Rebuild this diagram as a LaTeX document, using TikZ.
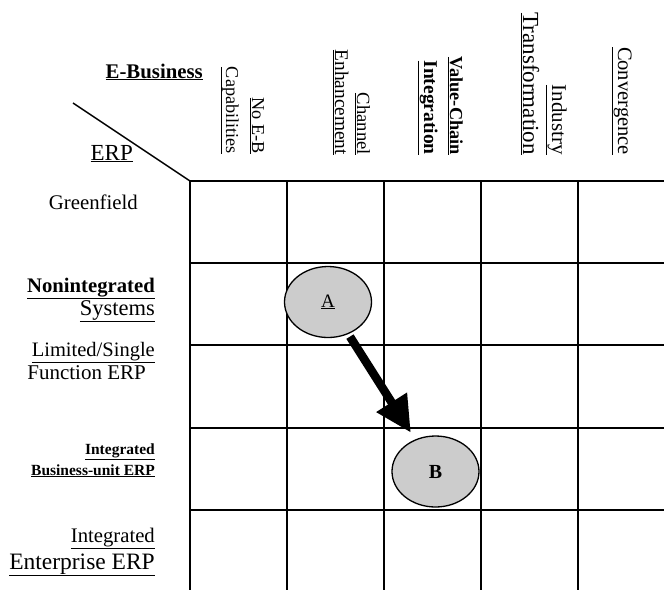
\documentclass[tikz,border=0pt]{standalone}
\usepackage{fontspec}
\setmainfont{Liberation Serif}
\usetikzlibrary{shapes.geometric,arrows.meta}
\newcommand\myfs[1]{\fontsize{#1}{#1}\selectfont}
\begin{document}
\begin{tikzpicture}[x=1pt,y=-1pt,
  lbl/.style={inner sep=0pt, anchor=base east},
  hdr/.style={inner sep=0pt, anchor=base east, rotate=-90},
  gridline/.style={line width=1.5pt},
  blob/.style={ellipse, draw, line width=1.3pt, fill=black!20, minimum width=87pt, minimum height=71pt, inner sep=0pt},
  bigarrow/.style={line width=8.5pt, -{Triangle[length=36pt,width=34pt]}, shorten <=3pt, shorten >=8pt}]
\useasboundingbox (0,0) rectangle (664,590);
% grid
\draw[line width=2pt] (190,181) -- (664,181);
\foreach \yy in {263,345,428,510} {\draw[gridline] (190,\yy) -- (664,\yy);}
\foreach \xx in {190,287,384,481,578} {\draw[gridline] (\xx,181) -- (\xx,590);}
\draw[gridline] (73,103) -- (190,181);
% corner labels
\node[lbl, font=\myfs{20.8}\bfseries] (eb) at (203,78) {\underline{E-Business}};
\node[lbl, font=\myfs{23}] (erp) at (133,160) {\underline{ERP}};
% column headers
\node[hdr, font=\myfs{18.2}] (c1a) at (252,154) {\underline{No E-B}};
\node[hdr, font=\myfs{18.2}] (c1b) at (226,154) {\underline{Capabilities}};
\node[hdr, font=\myfs{18.6}] (c2a) at (357,155) {\underline{Channel}};
\node[hdr, font=\myfs{19.3}] (c2b) at (335,155) {\underline{Enhancement}};
\node[hdr, font=\myfs{18.3}\bfseries] (c3a) at (450,155) {\underline{Value-Chain}};
\node[hdr, font=\myfs{19.5}\bfseries] (c3b) at (424,155) {\underline{Integration}};
\node[hdr, font=\myfs{21}] (c4a) at (552,155) {\underline{Industry}};
\node[hdr, font=\myfs{23}] (c4b) at (523,155) {\underline{Transformation}};
\node[hdr, font=\myfs{20.5}] (c5) at (618,155) {\underline{Convergence}};
% row labels
\node[lbl, font=\myfs{20.8}] (r1) at (138,209) {Greenfield};
\node[lbl, font=\myfs{20.7}\bfseries] (r2a) at (155,292) {\underline{Nonintegrated}};
\node[lbl, font=\myfs{22.5}] (r2b) at (155,315) {\underline{Systems}};
\node[lbl, font=\myfs{20.5}] (r3a) at (155,356) {\underline{Limited/Single}};
\node[lbl, font=\myfs{21}] (r3b) at (146,379) {Function ERP};
\node[lbl, font=\myfs{15.5}\bfseries] (r4a) at (155,454) {\underline{Integrated}};
\node[lbl, font=\myfs{15.5}\bfseries] (r4b) at (155,475) {\underline{Business-unit ERP}};
\node[lbl, font=\myfs{20.7}] (r5a) at (155,542) {\underline{Integrated}};
\node[lbl, font=\myfs{23.5}] (r5b) at (155,569) {\underline{Enterprise ERP}};
% ellipses and arrow
\node[blob, font=\myfs{19}] (A) at (328,302) {\underline{A}};
\node[blob, font=\myfs{20}\bfseries] (B) at (435.5,471.5) {B};
\draw[bigarrow] (A) -- (B);
\end{tikzpicture}
\end{document}
